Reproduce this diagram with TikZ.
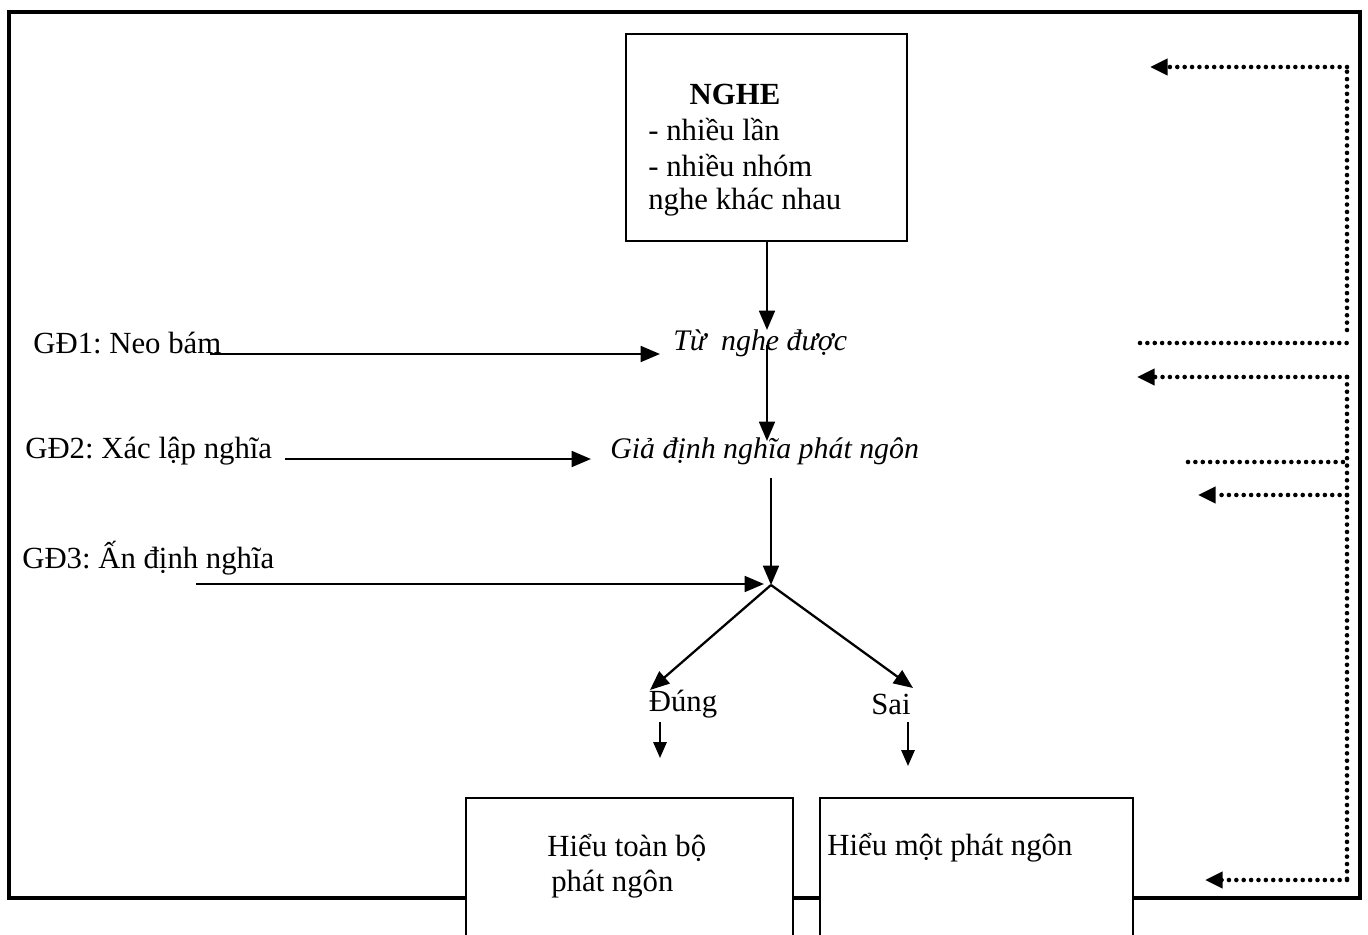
\documentclass[tikz,border=0pt]{standalone}
\usepackage{fontspec}
\setmainfont{Liberation Serif}
\usetikzlibrary{arrows.meta}
\frenchspacing
\begin{document}
\begin{tikzpicture}[x=0.02cm,y=-0.02cm,
  txt/.style={font=\fontsize{17.5}{21}\selectfont, inner sep=0pt},
  itxt/.style={font=\fontsize{17}{20.5}\selectfont\itshape, inner sep=0pt},
  boxline/.style={line width=1.2pt},
  frame/.style={line width=2.3pt},
  arr/.style={line width=1.3pt, -{Triangle[length=11pt,width=9pt]}},
  sarr/.style={line width=1.2pt, -{Triangle[length=9pt,width=7.5pt]}},
  dots/.style={line width=2.6pt, line cap=round, dash pattern=on 0pt off 4.2pt},
  darr/.style={dots, -{Triangle[length=10pt,width=9pt]}}
]
\useasboundingbox (0,0) rectangle (1368,935);
% outer frame
\draw[frame] (466,898) -- (9,898) -- (9,12) -- (1360,12) -- (1360,898) -- (1133,898);
\draw[frame] (793,898) -- (820,898);
% NGHE box
\node[boxline, draw, minimum width=281*0.02cm, minimum height=207*0.02cm, inner sep=0pt] (nghe) at (766.5,137.5) {};
\node[txt, font=\fontsize{17.5}{21}\selectfont\bfseries] (nghet) at (735,94) {NGHE};
\node[txt, anchor=west] (l1) at (648,130) {- nhiều lần};
\node[txt, anchor=west] (l2) at (648,166) {- nhiều nhóm};
\node[txt, anchor=west] (l3) at (648,202) {nghe khác nhau};
% middle texts
\node[itxt, anchor=west] (tu) at (673,343) {Từ\enspace nghe được};
\node[itxt, anchor=west] (gia) at (610,451) {Giả định nghĩa phát ngôn};
\coordinate (tutop) at (767,330);
\coordinate (tubot) at (767,345);
\coordinate (giatop) at (767,441);
\coordinate (giabot) at (771,478);
\coordinate (j) at (771,585);
\draw[arr] (nghe.south -| tutop) -- (tutop);
\draw[arr] (tubot) -- (giatop);
\draw[arr] (giabot) -- (j);
% left labels
\node[txt, anchor=west] (gd1) at (33,343) {GĐ1: Neo bám};
\node[txt, anchor=west] (gd2) at (25,451) {GĐ2: Xác lập nghĩa};
\node[txt, anchor=west] (gd3) at (22,558) {GĐ3: Ấn định nghĩa};
\coordinate (g1s) at (210,354);
\coordinate (g1e) at (660,354);
\coordinate (g2s) at (285,459);
\coordinate (g2e) at (591,459);
\coordinate (g3s) at (196,584);
\coordinate (g3e) at (764,584);
\draw[arr] (g1s) -- (g1e);
\draw[arr] (g2s) -- (g2e);
\draw[arr] (g3s) -- (g3e);
% branches
\node[txt] (dung) at (683,704) {Đúng};
\node[txt] (sai) at (891,704) {Sai};
\coordinate (dtip) at (650,690);
\coordinate (stip) at (913,688);
\draw[arr] (j) -- (dtip);
\draw[arr] (j) -- (stip);
\coordinate (d1) at (660,722);
\coordinate (d2) at (660,758);
\coordinate (s1) at (908,722);
\coordinate (s2) at (908,766);
\draw[sarr] (d1) -- (d2);
\draw[sarr] (s1) -- (s2);
% bottom boxes
\draw[boxline] (466,940) -- (466,798) -- (793,798) -- (793,940);
\draw[boxline] (820,940) -- (820,798) -- (1133,798) -- (1133,940);
\node[txt, anchor=west] (h1) at (547,848) {Hiểu toàn bộ};
\node[txt, anchor=west] (h2) at (551,884) {phát ngôn};
\node[txt, anchor=west] (h3) at (827,848) {Hiểu một phát ngôn};
% right dotted feedback lines
\coordinate (r1) at (1347,67);
\coordinate (r1e) at (1150,67);
\coordinate (r2) at (1347,330);
\coordinate (r3a) at (1140,343);
\coordinate (r3b) at (1347,343);
\coordinate (r4) at (1347,377);
\coordinate (r4e) at (1137,377);
\coordinate (r5a) at (1188,462);
\coordinate (r5b) at (1345,462);
\coordinate (r6) at (1347,495);
\coordinate (r6e) at (1198,495);
\coordinate (r7) at (1347,880);
\coordinate (r7e) at (1205,880);
\draw[dots] (r2) -- (r1);
\draw[darr] (r1) -- (r1e);
\draw[dots] (r3a) -- (r3b);
\draw[dots] (r4) -- (r7);
\draw[darr] (r4) -- (r4e);
\draw[dots] (r5a) -- (r5b);
\draw[darr] (r6) -- (r6e);
\draw[darr] (r7) -- (r7e);
\end{tikzpicture}
\end{document}
